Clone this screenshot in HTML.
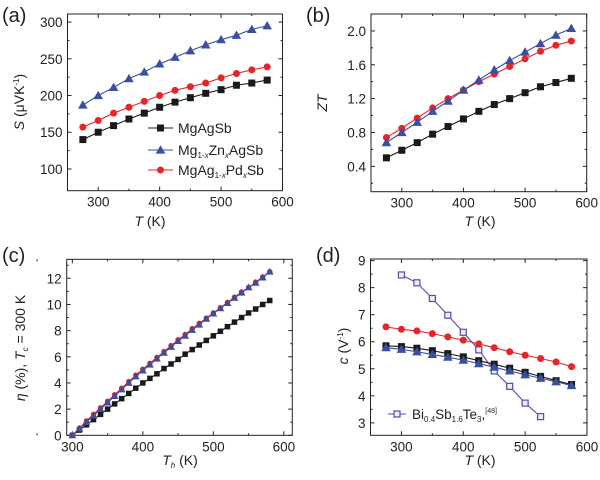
<!DOCTYPE html>
<html><head><meta charset="utf-8"><style>
body{margin:0;background:#fff;}
svg{display:block;font-family:"Liberation Sans",sans-serif;}
</style></head><body>
<svg id="fig" width="600" height="480" viewBox="0 0 600 480"></svg>
<script>
const T13=[275,300,325,350,375,400,425,450,475,500,525,550,575];
const aBlack=[140,150,159,168,176,184,191,197,203,208,214,217,221];
const aBlue=[187,200,211,223,232,243,252,261,269,276,282,290,295];
const aRed=[157,166,176,184,192,200,207,212,217,224,230,235,239];
const bBlack=[0.50,0.59,0.68,0.78,0.87,0.96,1.05,1.13,1.20,1.27,1.34,1.39,1.44];
const bBlue=[0.68,0.80,0.92,1.05,1.17,1.30,1.42,1.54,1.65,1.75,1.85,1.95,2.03];
const bRed=[0.74,0.85,0.97,1.09,1.20,1.30,1.40,1.49,1.58,1.67,1.76,1.83,1.88];
const Th=[300,310,320,330,340,350,360,370,380,390,400,410,420,430,440,450,460,470,480,490,500,510,520,530,540,550,560,570,580];
const cBlack=[0,0.4,0.8,1.2,1.6,2.0,2.4,2.8,3.2,3.6,4.0,4.35,4.7,5.1,5.45,5.8,6.2,6.55,6.9,7.25,7.6,7.95,8.3,8.65,9.0,9.35,9.65,10.0,10.3];
const cBlue=[0,0.5,1.0,1.5,2.0,2.5,3.0,3.5,4.0,4.5,4.95,5.4,5.85,6.3,6.75,7.2,7.6,8.05,8.45,8.9,9.3,9.7,10.1,10.5,10.9,11.3,11.65,12.05,12.5];
const cRed=[0,0.55,1.1,1.6,2.1,2.6,3.1,3.6,4.1,4.6,5.05,5.5,5.95,6.4,6.85,7.3,7.7,8.15,8.55,8.95,9.35,9.75,10.15,10.55,10.95,11.3,11.7,12.1,12.5];
const dBlack=[5.85,5.82,5.76,5.67,5.56,5.44,5.30,5.17,5.02,4.87,4.72,4.56,4.42];
const dBlue=[5.78,5.72,5.63,5.53,5.43,5.32,5.19,5.06,4.92,4.78,4.65,4.52,4.38];
const dRed=[6.55,6.46,6.40,6.30,6.18,6.06,5.92,5.78,5.63,5.50,5.38,5.25,5.08];
const Tbi=[300,325,350,375,400,425,450,475,500,525];
const dBi=[8.47,8.18,7.60,6.98,6.35,5.70,4.92,4.35,3.73,3.23];
const xTicks=[300,400,500,600];
const aYTicks=[100,150,200,250,300];
const bYTicks=[0.4,0.8,1.2,1.6,2.0];
const cYTicks=[0,2,4,6,8,10,12];
const dYTicks=[3,4,5,6,7,8,9];

const NS="http://www.w3.org/2000/svg";
const svg=document.getElementById('fig');
const K="#1a1a1a",B="#3a4fa0",R="#e8232a",P="#5a4aa8";
function el(tag,attrs,parent){const e=document.createElementNS(NS,tag);for(const k in attrs)e.setAttribute(k,attrs[k]);(parent||svg).appendChild(e);return e;}

function panel(name,box,xr,yr,xt,yt,xMinor,yMinor,fmt){
  const g=el('g',{});
  
  
  const sx=v=>box.l+(v-xr[0])/(xr[1]-xr[0])*(box.r-box.l);
  const sy=v=>box.b-(v-yr[0])/(yr[1]-yr[0])*(box.b-box.t);
  const fr=el('rect',{x:box.l,y:box.t,width:box.r-box.l,height:box.b-box.t,fill:'none',stroke:'#222','stroke-width':1},g);
  
  
  xt.forEach(v=>{const x=sx(v);
    el('line',{x1:x,x2:x,y1:box.b,y2:box.b-4,stroke:'#222'},g);
    el('line',{x1:x,x2:x,y1:box.t,y2:box.t+4,stroke:'#222'},g);
    const t=el('text',{x:x,y:box.b+16,'font-size':13.5,'text-anchor':'middle',fill:'#222'},g);t.textContent=v;
    
    
  });
  xMinor.forEach(v=>{const x=sx(v);
    el('line',{x1:x,x2:x,y1:box.b,y2:box.b-2,stroke:'#222'},g);
    el('line',{x1:x,x2:x,y1:box.t,y2:box.t+2,stroke:'#222'},g);});
  yt.forEach(v=>{const y=sy(v);
    el('line',{x1:box.l,x2:box.l+4,y1:y,y2:y,stroke:'#222'},g);
    el('line',{x1:box.r,x2:box.r-4,y1:y,y2:y,stroke:'#222'},g);
    const t=el('text',{x:box.l-5,y:y+5,'font-size':13.5,'text-anchor':'end',fill:'#222'},g);t.textContent=fmt(v);
    
    
  });
  yMinor.forEach(v=>{const y=sy(v);
    el('line',{x1:box.l,x2:box.l+2,y1:y,y2:y,stroke:'#222'},g);
    el('line',{x1:box.r,x2:box.r-2,y1:y,y2:y,stroke:'#222'},g);});
  return {g,sx,sy};
}
function marker(g,type,x,y,c,s){
  let m;
  if(type==='sq') m=el('rect',{x:x-s/2,y:y-s/2,width:s,height:s,fill:c},g);
  else if(type==='osq') m=el('rect',{x:x-s/2,y:y-s/2,width:s,height:s,fill:'#eeeef8',stroke:c,'stroke-width':1.2},g);
  else if(type==='ci') m=el('circle',{cx:x,cy:y,r:s/2,fill:c},g);
  else m=el('polygon',{points:`${x},${y-s*0.6} ${x-s*0.6},${y+s*0.45} ${x+s*0.6},${y+s*0.45}`,fill:c},g);
  
  
}
function series(p,name,xs,ys,c,type,s){
  const g=el('g',{},p.g);
  
  
  el('polyline',{points:xs.map((x,i)=>p.sx(x)+','+p.sy(ys[i])).join(' '),fill:'none',stroke:c,'stroke-width':1.1},g);
  xs.forEach((x,i)=>marker(g,type,p.sx(x),p.sy(ys[i]),c,s));
}
function text(x,y,html,attrs,name){
  const t=el('text',Object.assign({x:x,y:y,fill:'#222'},attrs));t.innerHTML=html;
  
  
  return t;
}
const xMin=[250,350,450,550];
// (a)
const pa=panel('panel-a-seebeck',{l:67.5,r:282.5,t:14,b:190.7},[250,600],[70.4,311],xTicks,aYTicks,xMin,[125,175,225,275],v=>v);
series(pa,'series-mgagsb',T13,aBlack,K,'sq',7);
series(pa,'series-mgzn',T13,aBlue,B,'tri',8);
series(pa,'series-mgpd',T13,aRed,R,'ci',7);
[[128,K,'sq','MgAgSb'],[150,B,'tri','Mg<tspan font-size="8" dy="3">1-<tspan font-style="italic">x</tspan></tspan><tspan dy="-3">Zn</tspan><tspan font-size="8" dy="3" font-style="italic">x</tspan><tspan dy="-3">AgSb</tspan>'],[170,R,'ci','MgAg<tspan font-size="8" dy="3">1-<tspan font-style="italic">x</tspan></tspan><tspan dy="-3">Pd</tspan><tspan font-size="8" dy="3" font-style="italic">x</tspan><tspan dy="-3">Sb</tspan>']].forEach(([y,c,t,l])=>{
  const g=el('g',{});
  
  
  el('line',{x1:148,x2:173,y1:y,y2:y,stroke:c,'stroke-width':1.1},g);
  marker(g,t,160.5,y,c,t==='tri'?8:7);
  const tx=el('text',{x:178,y:y+5,'font-size':14,fill:'#222'},g);tx.innerHTML=l;
});
text(2,22,'(a)',{'font-size':20},'panel-label-a');
text(150,226,'<tspan font-style="italic">T</tspan> (K)',{'font-size':14,'text-anchor':'middle'},'x-axis-title-a');
text(0,0,'<tspan font-style="italic">S</tspan> (μVK<tspan font-size="8" dy="-5">-1</tspan><tspan dy="5">)</tspan>',{'font-size':14,'text-anchor':'middle',transform:'translate(24,102) rotate(-90)'},'y-axis-title-a');
// (b)
const pb=panel('panel-b-zt',{l:371,r:586.7,t:14,b:191.7},[250,600],[0.1,2.2],xTicks,bYTicks,xMin,[0.2,0.6,1.0,1.4,1.8,2.2],v=>v.toFixed(1));
series(pb,'series-mgagsb',T13,bBlack,K,'sq',7);
series(pb,'series-mgpd',T13,bRed,R,'ci',7);
series(pb,'series-mgzn',T13,bBlue,B,'tri',8);
text(306,22,'(b)',{'font-size':20},'panel-label-b');
text(480,226,'<tspan font-style="italic">T</tspan> (K)',{'font-size':14,'text-anchor':'middle'},'x-axis-title-b');
text(0,0,'<tspan font-style="italic">ZT</tspan>',{'font-size':14,'text-anchor':'middle',transform:'translate(327,103) rotate(-90)'},'y-axis-title-b');
// (c)
const pc=panel('panel-c-efficiency',{l:66.7,r:292.3,t:259.3,b:435.3},[292,612],[0,13.45],xTicks,cYTicks,xMin,[1,3,5,7,9,11,13],v=>v);
series(pc,'series-mgagsb',Th,cBlack,K,'sq',5.5);
series(pc,'series-mgpd',Th,cRed,R,'ci',5.5);
series(pc,'series-mgzn',Th,cBlue,B,'tri',6.5);
text(2,262,'(c)',{'font-size':20},'panel-label-c');
text(180,465,'<tspan font-style="italic">T</tspan><tspan font-size="8" dy="3" font-style="italic">h</tspan><tspan dy="-3"> (K)</tspan>',{'font-size':14,'text-anchor':'middle'},'x-axis-title-c');
text(0,0,'<tspan font-style="italic">η</tspan> (%), <tspan font-style="italic">T</tspan><tspan font-size="8" dy="3" font-style="italic">c</tspan><tspan dy="-3"> = 300 K</tspan>',{'font-size':14,'text-anchor':'middle',transform:'translate(25,348) rotate(-90)'},'y-axis-title-c');
// (d)
const pd=panel('panel-d-compatibility',{l:370.5,r:587,t:259,b:435.3},[250,600],[2.54,9.06],xTicks,dYTicks,xMin,[3.5,4.5,5.5,6.5,7.5,8.5],v=>v);
series(pd,'series-bi-sb-te',Tbi,dBi,P,'osq',6);
series(pd,'series-mgagsb',T13,dBlack,K,'sq',7);
series(pd,'series-mgzn',T13,dBlue,B,'tri',8);
series(pd,'series-mgpd',T13,dRed,R,'ci',7);
(function(){const g=el('g',{});
  
  
  el('line',{x1:388,x2:406,y1:414,y2:414,stroke:P,'stroke-width':1.1},g);
  marker(g,'osq',397,414,P,6);
  const tx=el('text',{x:412,y:419,'font-size':13.5,fill:'#222'},g);
  tx.innerHTML='Bi<tspan font-size="8" dy="3">0.4</tspan><tspan dy="-3">Sb</tspan><tspan font-size="8" dy="3">1.6</tspan><tspan dy="-3">Te</tspan><tspan font-size="8" dy="3">3</tspan><tspan dy="-3">,</tspan><tspan font-size="7" dy="-6">[48]</tspan>';
})();
text(316,262,'(d)',{'font-size':20},'panel-label-d');
text(480,465,'<tspan font-style="italic">T</tspan> (K)',{'font-size':14,'text-anchor':'middle'},'x-axis-title-d');
text(0,0,'<tspan font-style="italic">c</tspan> (V<tspan font-size="8" dy="-5">-1</tspan><tspan dy="5">)</tspan>',{'font-size':14,'text-anchor':'middle',transform:'translate(348,346) rotate(-90)'},'y-axis-title-d');
</script>
</body></html>
